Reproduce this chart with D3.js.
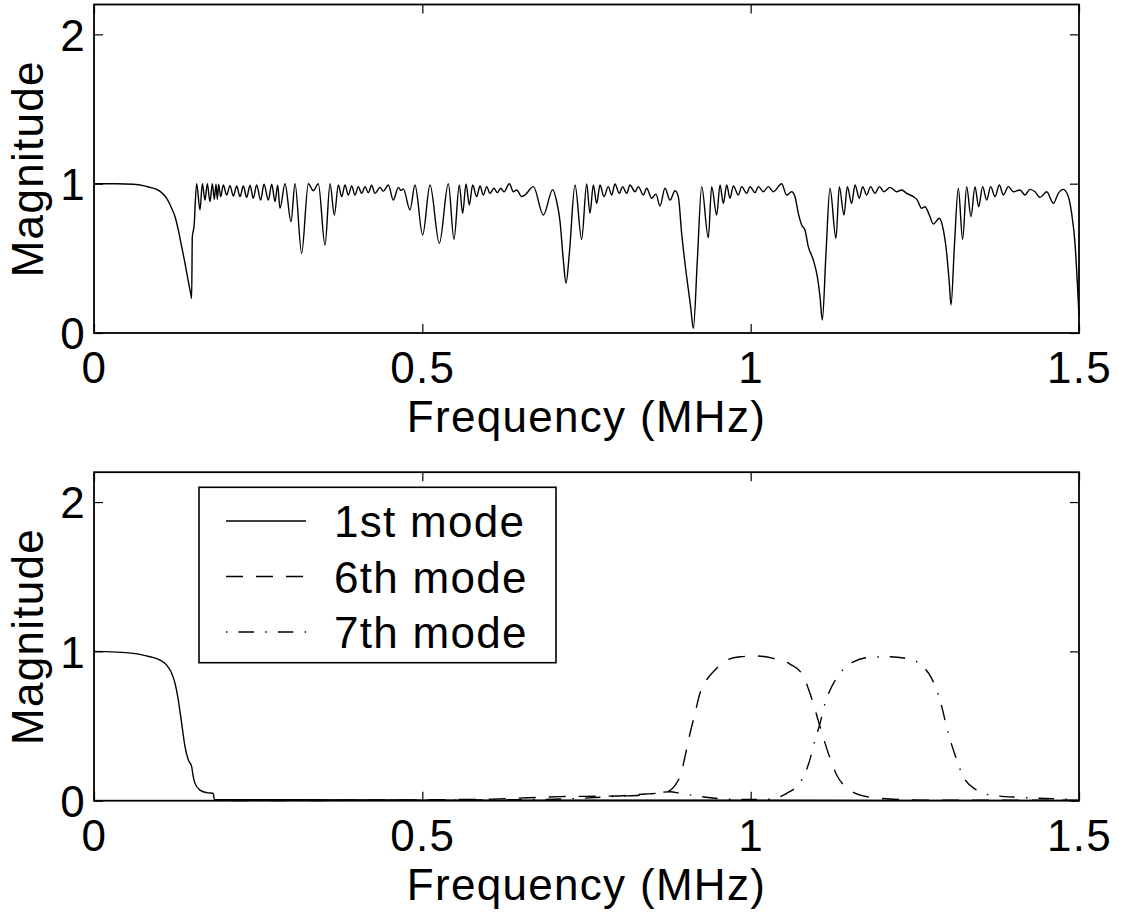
<!DOCTYPE html>
<html>
<head>
<meta charset="utf-8">
<script src="https://cdn.jsdelivr.net/npm/d3@7"></script>
<style>
  html, body { margin: 0; padding: 0; background: #fff; }
  svg { display: block; }
  text { font-family: "Liberation Sans", Arial, Helvetica, sans-serif; fill: #000; letter-spacing: 1.3px; }
</style>
</head>
<body>
<svg id="chart" width="1122" height="913"></svg>
<script>
// ---- axis settings ----
const xTicks = [0, 0.5, 1, 1.5];
const yTicks = [0, 1, 2];
const xLabel = "Frequency (MHz)";
const yLabel = "Magnitude";

// ---- upper panel: total transmission magnitude [frequency MHz, magnitude] ----
const spectrum = [
  [0,1.0],[0.0345,1.0],[0.06,0.996],[0.075,0.987],[0.0853,0.975],[0.0954,0.962],[0.103,0.94],
  [0.1107,0.902],[0.1183,0.835],[0.1234,0.779],[0.1284,0.69],[0.1335,0.578],[0.1386,0.467],
  [0.1437,0.344],[0.1472,0.266],[0.1487,0.232],[0.1497,0.645],[0.1523,0.712],[0.1563,1.0],
  [0.1614,0.824],[0.165,1.0],[0.169,0.89],[0.1726,1.0],[0.1766,0.879],[0.1802,1.0],[0.1832,0.895],
  [0.1858,0.996],[0.1878,0.895],[0.1898,0.996],[0.1929,0.913],[0.197,0.991],[0.202,0.924],
  [0.2071,0.987],[0.2122,0.917],[0.2173,0.984],[0.2223,0.913],[0.2274,0.984],[0.2325,0.908],
  [0.2376,0.989],[0.2426,0.902],[0.2477,0.991],[0.2538,0.89],[0.2589,0.996],[0.2655,0.89],
  [0.2706,0.996],[0.2757,0.88],[0.2797,0.99],[0.2832,0.835],[0.2909,1.0],[0.3,0.746],[0.3061,1.0],
  [0.3162,0.534],[0.3264,1.0],[0.334,0.953],[0.3416,1.0],[0.3518,0.589],[0.3594,1.0],[0.366,0.79],
  [0.3721,0.991],[0.3772,0.913],[0.3822,0.991],[0.3873,0.924],[0.3924,0.984],[0.3975,0.924],
  [0.4025,0.98],[0.4076,0.935],[0.4127,0.98],[0.4178,0.94],[0.4228,0.989],[0.4279,0.935],
  [0.4355,0.975],[0.4406,0.95],[0.4482,0.991],[0.4558,0.89],[0.4635,0.975],[0.4675,0.955],
  [0.4711,0.965],[0.4812,0.824],[0.4888,0.991],[0.5005,0.656],[0.5117,0.991],[0.5259,0.6],
  [0.5396,1.0],[0.5482,0.627],[0.5563,0.991],[0.5614,0.801],[0.5665,0.998],[0.5716,0.857],
  [0.5766,0.991],[0.5827,0.913],[0.5878,0.984],[0.5929,0.924],[0.598,0.98],[0.603,0.935],
  [0.6091,0.969],[0.6142,0.94],[0.6193,0.969],[0.6244,0.946],[0.6325,1.0],[0.6386,0.946],
  [0.6437,0.958],[0.6513,0.913],[0.6565,0.925],[0.6691,0.98],[0.6843,0.79],[0.6985,0.96],
  [0.7046,0.88],[0.7096,0.75],[0.7147,0.489],[0.7188,0.333],[0.7239,0.534],[0.7325,0.991],
  [0.7426,0.627],[0.7503,0.998],[0.7553,0.801],[0.7604,0.991],[0.7655,0.868],[0.7706,0.991],
  [0.7766,0.913],[0.7832,0.98],[0.7883,0.924],[0.7934,0.998],[0.8,0.935],[0.805,0.98],
  [0.8112,0.935],[0.8162,0.991],[0.8239,0.946],[0.8289,0.98],[0.8365,0.924],[0.8416,0.969],
  [0.8492,0.902],[0.8558,0.93],[0.8619,0.85],[0.8695,0.969],[0.8772,0.89],[0.8848,0.953],
  [0.8898,0.913],[0.8949,0.667],[0.9025,0.377],[0.9086,0.176],[0.9127,0.031],[0.9188,0.489],
  [0.9254,0.98],[0.9355,0.638],[0.9406,0.98],[0.9482,0.79],[0.9533,0.991],[0.9584,0.868],
  [0.9635,0.991],[0.9685,0.902],[0.9736,0.984],[0.9812,0.924],[0.9863,0.98],[0.9939,0.935],
  [0.999,0.98],[1.0066,0.94],[1.0117,0.98],[1.0193,0.946],[1.0269,0.98],[1.0345,0.946],
  [1.0472,1.0],[1.0548,0.924],[1.0624,0.946],[1.0675,0.913],[1.0726,0.801],[1.0777,0.723],
  [1.0827,0.69],[1.0878,0.578],[1.0954,0.489],[1.1015,0.377],[1.1056,0.243],[1.1091,0.087],
  [1.1147,0.534],[1.1208,0.969],[1.1299,0.634],[1.135,0.98],[1.1421,0.79],[1.1472,0.98],
  [1.1538,0.868],[1.1589,0.991],[1.1655,0.902],[1.1706,0.98],[1.1766,0.924],[1.1827,0.98],
  [1.1893,0.935],[1.196,0.98],[1.203,0.946],[1.2122,0.975],[1.2223,0.946],[1.2299,0.958],
  [1.2376,0.935],[1.2477,0.913],[1.2538,0.89],[1.2604,0.835],[1.2655,0.846],[1.2721,0.79],
  [1.2782,0.73],[1.2873,0.768],[1.2934,0.69],[1.2985,0.534],[1.3025,0.333],[1.3051,0.1875],
  [1.3102,0.578],[1.3162,0.969],[1.3228,0.627],[1.3289,0.98],[1.3355,0.779],[1.3416,0.98],
  [1.3472,0.846],[1.3533,0.98],[1.3594,0.89],[1.3655,0.98],[1.3721,0.913],[1.3787,0.991],
  [1.3848,0.924],[1.3924,0.98],[1.4,0.946],[1.4102,0.958],[1.4178,0.924],[1.4254,0.962],
  [1.433,0.946],[1.4406,0.908],[1.4508,0.946],[1.461,0.868],[1.4685,0.935],[1.4761,0.962],
  [1.4838,0.913],[1.4888,0.801],[1.4939,0.6],[1.4975,0.333],[1.5,0.109]
];

// ---- lower panel: individual mode magnitudes [frequency MHz, magnitude] ----
const mode1 = [
  [0,1.0],[0.06,0.987],[0.0853,0.964],[0.1005,0.942],[0.1107,0.908],[0.1183,0.853],[0.1234,0.786],
  [0.1284,0.674],[0.1335,0.518],[0.1386,0.362],[0.1437,0.272],[0.1487,0.228],[0.1503,0.183],
  [0.1538,0.116],[0.1614,0.071],[0.1716,0.054],[0.1817,0.049],[0.1832,0.009],[0.3,0.006],
  [0.6,0.004],[1.0,0.003],[1.5,0.002]
];
const mode6 = [
  [0.19,0.002],[0.4,0.004],[0.5,0.006],[0.6,0.01],[0.6386,0.016],[0.71,0.027],[0.79,0.031],
  [0.84,0.045],[0.87,0.055],[0.8924,0.16],[0.9,0.295],[0.9076,0.45],[0.9152,0.585],[0.9228,0.72],
  [0.933,0.81],[0.9457,0.875],[0.9635,0.942],[0.9838,0.964],[1.009,0.969],[1.0345,0.953],
  [1.0599,0.915],[1.0777,0.853],[1.0929,0.685],[1.1056,0.496],[1.1183,0.317],[1.131,0.172],
  [1.1513,0.071],[1.1766,0.027],[1.2071,0.013],[1.2579,0.004],[1.5,0.003]
];
const mode7 = [
  [0.19,0.001],[0.5,0.003],[0.7,0.01],[0.8,0.03],[0.84,0.04],[0.8772,0.06],[0.8924,0.05],
  [0.92,0.03],[0.95,0.015],[0.99,0.008],[1.0244,0.009],[1.0548,0.049],[1.0777,0.138],[1.09,0.272],
  [1.0975,0.4],[1.1056,0.518],[1.1132,0.652],[1.1208,0.74],[1.136,0.853],[1.1563,0.93],
  [1.1817,0.96],[1.2122,0.964],[1.2426,0.946],[1.2629,0.897],[1.2756,0.819],[1.2883,0.674],
  [1.301,0.45],[1.3112,0.306],[1.3239,0.16],[1.3442,0.071],[1.3645,0.038],[1.4102,0.022],
  [1.4609,0.013],[1.4964,0.009]
];
const modeLabels = ["1st mode", "6th mode", "7th mode"];
const modeDashes = [null, "17,13", "1.5,11,15.5,11.3"];

// ---- layout ----
const svg = d3.select("#chart");
const FONT = 44;
const plotLeft = 94, plotRight = 1079;
const panels = [
  { top: 4.5, bottom: 333 },
  { top: 472.2, bottom: 800.7 }
];
const fmt = d => d3.format("~g")(d);

function drawPanel(p) {
  const g = svg.append("g");
  const x = d3.scaleLinear().domain([0, 1.5]).range([plotLeft, plotRight]);
  const y = d3.scaleLinear().domain([0, 2.2]).range([p.bottom, p.top]);

  // bottom axis with labels, inward ticks
  const ax = g.append("g").attr("transform", `translate(0,${p.bottom})`)
    .call(d3.axisBottom(x).tickValues(xTicks).tickSize(-9).tickFormat(fmt));
  ax.selectAll("text").attr("y", 50).attr("dy", null)
    .style("font-size", FONT + "px").style("font-family", "'Liberation Sans', Arial, sans-serif");
  // top axis ticks
  g.append("g").attr("transform", `translate(0,${p.top})`)
    .call(d3.axisTop(x).tickValues(xTicks).tickSize(-9).tickFormat(""));
  // left axis with labels
  const ay = g.append("g").attr("transform", `translate(${plotLeft},0)`)
    .call(d3.axisLeft(y).tickValues(yTicks).tickSize(-9).tickFormat(fmt));
  ay.selectAll("text").attr("x", -8).attr("dy", "0.36em")
    .style("font-size", FONT + "px").style("font-family", "'Liberation Sans', Arial, sans-serif");
  // right axis ticks
  g.append("g").attr("transform", `translate(${plotRight},0)`)
    .call(d3.axisRight(y).tickValues(yTicks).tickSize(-9).tickFormat(""));

  g.selectAll(".domain").remove();
  g.selectAll(".tick line").attr("stroke", "#000").attr("stroke-width", 1.2);

  // frame
  g.append("rect")
    .attr("x", plotLeft).attr("y", p.top)
    .attr("width", plotRight - plotLeft).attr("height", p.bottom - p.top)
    .attr("fill", "none").attr("stroke", "#000").attr("stroke-width", 1.8);

  // axis titles
  g.append("text")
    .attr("x", (plotLeft + plotRight) / 2).attr("y", p.bottom + 99)
    .attr("text-anchor", "middle").style("font-size", FONT + "px")
    .text(xLabel);
  g.append("text")
    .attr("transform", `translate(43,${(p.top + p.bottom) / 2}) rotate(-90)`)
    .attr("text-anchor", "middle").style("font-size", FONT + "px")
    .text(yLabel);

  return { g, x, y };
}

// upper panel
const up = drawPanel(panels[0]);
const lineUp = d3.line().x(d => up.x(d[0])).y(d => up.y(d[1])).curve(d3.curveMonotoneX);
up.g.append("path").datum(spectrum)
  .attr("d", lineUp).attr("fill", "none").attr("stroke", "#000").attr("stroke-width", 1.4);

// lower panel
const lo = drawPanel(panels[1]);
const lineLo = d3.line().x(d => lo.x(d[0])).y(d => lo.y(d[1])).curve(d3.curveMonotoneX);
[mode1, mode6, mode7].forEach((s, i) => {
  lo.g.append("path").datum(s)
    .attr("d", lineLo).attr("fill", "none").attr("stroke", "#000").attr("stroke-width", 1.4)
    .attr("stroke-dasharray", modeDashes[i]);
});

// legend
const leg = lo.g.append("g");
leg.append("rect")
  .attr("x", 199).attr("y", 487.3).attr("width", 357).attr("height", 175.4)
  .attr("fill", "#fff").attr("stroke", "#000").attr("stroke-width", 1.6);
modeLabels.forEach((label, i) => {
  const yy = 521 + i * 55.5;
  leg.append("line")
    .attr("x1", 226).attr("x2", 306).attr("y1", yy).attr("y2", yy)
    .attr("stroke", "#000").attr("stroke-width", 1.4)
    .attr("stroke-dasharray", modeDashes[i]);
  leg.append("text")
    .attr("x", 334).attr("y", yy + 16)
    .style("font-size", FONT + "px")
    .text(label);
});
</script>
</body>
</html>
